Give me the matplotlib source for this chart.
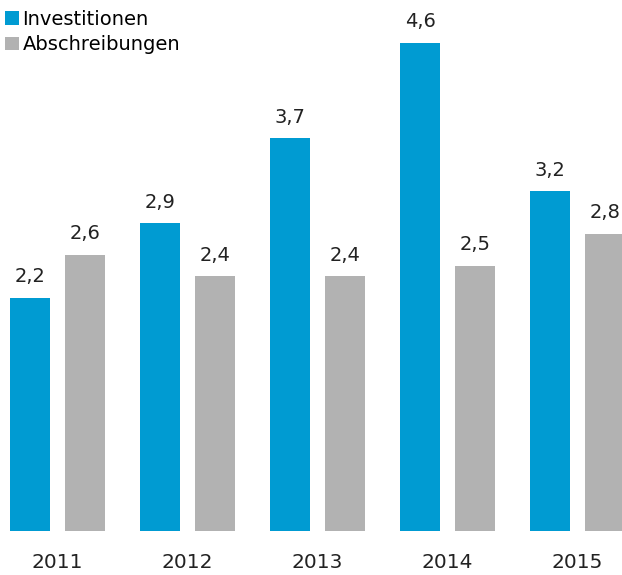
import numpy as np
import matplotlib
matplotlib.use('Agg')
import matplotlib.pyplot as plt

# Data
years = ['2011', '2012', '2013', '2014', '2015']
investitionen = [2.2, 2.9, 3.7, 4.6, 3.2]
abschreibungen = [2.6, 2.4, 2.4, 2.5, 2.8]

colors = {'inv': '#009BD2', 'abs': '#B2B2B2'}

fig = plt.figure(figsize=(6.22, 5.75), dpi=100)
ax = fig.add_axes([0, 44 / 575, 1, 531 / 575])

x = np.arange(len(years))
w = 40 / 130
off = 27.5 / 130

b1 = ax.bar(x - off, investitionen, w, color=colors['inv'], label='Investitionen')
b2 = ax.bar(x + off, abschreibungen, w, color=colors['abs'], label='Abschreibungen')

for bars, vals in [(b1, investitionen), (b2, abschreibungen)]:
    for bar, v in zip(bars, vals):
        ax.text(bar.get_x() + bar.get_width() / 2, v + 0.11,
                f'{v:.1f}'.replace('.', ','),
                ha='center', va='bottom', fontsize=14, color='#222222')

ax.set_xlim(-57.5 / 130, (622 - 57.5) / 130)
ax.set_ylim(0, 531 / 106.1)

ax.set_xticks(x)
ax.set_xticklabels(years, fontsize=14.5, color='#222222')
ax.tick_params(axis='x', length=0, pad=16)
ax.set_yticks([])
for s in ax.spines.values():
    s.set_visible(False)

ax.legend(loc='upper left', frameon=False, fontsize=14,
          handlelength=0.7, handleheight=0.7, handletextpad=0.2,
          labelspacing=0.35, borderaxespad=0.0, borderpad=0.0,
          bbox_to_anchor=(0.008, 0.982))

fig.savefig('out.png', dpi=100)
